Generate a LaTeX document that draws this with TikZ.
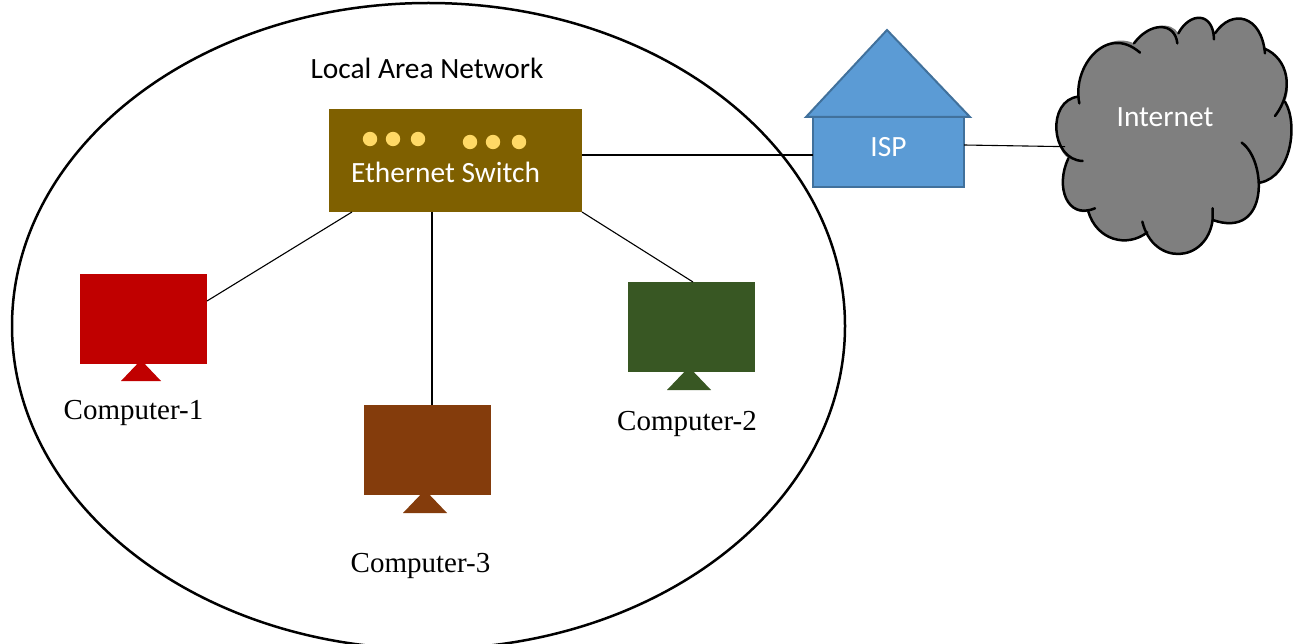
\documentclass[tikz,border=0pt]{standalone}
\usepackage{fontspec}
\setmainfont{Carlito}
\newfontfamily\serifcap{Liberation Serif}
\begin{document}
\begin{tikzpicture}[x=1pt,y=-1pt,
  box/.style={draw=none,inner sep=0pt,outer sep=0pt,anchor=north west},
  monitor/.style={box,minimum width=127pt,minimum height=90pt},
  link/.style={draw=black,line width=1.1pt},
  led/.style={fill=ledyellow},
  caption/.style={font=\serifcap\fontsize{29}{34}\selectfont,text=black,inner sep=0pt},
  sanslabel/.style={font=\fontsize{29.4}{34}\selectfont,inner sep=0pt},
  lobe/.style={draw=black,line width=2.5pt,line cap=round}]
\definecolor{ledyellow}{HTML}{FFD966}
\definecolor{switchc}{HTML}{7F6000}
\definecolor{redc}{HTML}{C00000}
\definecolor{greenc}{HTML}{385723}
\definecolor{brownc}{HTML}{843C0C}
\definecolor{ispfill}{HTML}{5B9BD5}
\definecolor{ispline}{HTML}{41719C}
\definecolor{cloudc}{HTML}{7F7F7F}
\useasboundingbox (0,0) rectangle (1298,644);
\begin{scope}
\clip (0,0) rectangle (1298,644);
\draw[line width=2.5pt,fill=white] (428.5,326) ellipse [x radius=416.5,y radius=323];
\end{scope}
\node[box,fill=switchc,minimum width=253pt,minimum height=103pt] (sw) at (329,109) {};
\node[monitor,fill=redc] (c1) at (80,274) {};
\node[monitor,fill=greenc] (c2) at (628,282) {};
\node[monitor,fill=brownc] (c3) at (364,405) {};
\fill[redc] (141,360) -- (161,381) -- (121,381) -- cycle;
\fill[greenc] (689,367) -- (711,390) -- (667,390) -- cycle;
\fill[brownc] (425,490) -- (447,513) -- (403,513) -- cycle;
\foreach \px/\py in {370/139,393/139,418/139,470/142,493/142,519/142}
  \fill[led] (\px,\py) circle [radius=7.2];
\node[box,draw=ispline,line width=2pt,fill=ispfill,minimum width=151pt,minimum height=70pt] (isp) at (813,117) {};
\draw[draw=ispline,line width=2pt,fill=ispfill,line join=miter] (806,117) -- (887,30) -- (970,117) -- cycle;
\node[sanslabel,text=white] (ispt) at (888.5,147) {ISP};
\node[sanslabel,text=white] (swt) at (445.5,172) {Ethernet Switch};
\node[sanslabel,text=black] (lan) at (427,68) {Local Area Network};
\node[caption] (c1t) at (133.5,413) {Computer-1};
\node[caption] (c2t) at (687,424) {Computer-2};
\node[caption] (c3t) at (420.5,566) {Computer-3};
% cloud body
\begin{scope}[shift={(1040,0)},x=0.3333pt,y=-0.3333pt]
\fill[cloudc] (118,310) .. controls (105,200) and (190,90) .. (282,130)
  .. controls (330,65) and (395,65) .. (415,100)
  .. controls (450,40) and (510,40) .. (525,100)
  .. controls (575,25) and (665,45) .. (672,145)
  .. controls (745,175) and (755,260) .. (735,305)
  .. controls (775,370) and (755,530) .. (660,548)
  .. controls (660,640) and (590,700) .. (518,660)
  .. controls (500,790) and (370,790) .. (322,697)
  .. controls (260,745) and (170,720) .. (145,635)
  .. controls (80,650) and (45,560) .. (85,475)
  .. controls (35,440) and (30,300) .. (118,290) -- cycle;
\coordinate (cloudport) at (75,440);
\draw[lobe] (118,310) .. controls (95,200) and (200,70) .. (300,158);
\draw[lobe] (282,130) .. controls (330,65) and (405,65) .. (412,130);
\draw[lobe] (415,100) .. controls (450,35) and (520,35) .. (522,118);
\draw[lobe] (525,100) .. controls (575,25) and (665,45) .. (675,160);
\draw[lobe] (672,145) .. controls (745,175) and (765,270) .. (705,348);
\draw[lobe] (735,305) .. controls (775,370) and (755,530) .. (660,548);
\draw[lobe] (605,428) .. controls (680,480) and (690,720) .. (518,660) -- (518,625);
\draw[lobe] (518,660) .. controls (500,790) and (340,800) .. (307,665);
\draw[lobe] (322,697) .. controls (260,745) and (170,720) .. (145,635);
\draw[lobe] (165,625) .. controls (80,660) and (45,560) .. (85,475);
\draw[lobe] (128,483) .. controls (30,480) and (20,300) .. (115,290);
\end{scope}
\node[sanslabel,text=white] (net) at (1165,117) {Internet};
\draw[link] ([yshift=-46pt]sw.north east) -- ([yshift=-38pt]isp.north west);
\draw[link] ([xshift=23pt]sw.south west) -- ([yshift=-27pt]c1.north east);
\draw[link] ([xshift=103pt]sw.south west) -- ([xshift=68pt]c3.north west);
\draw[link] (sw.south east) -- ([xshift=65pt]c2.north west);
\draw[link] ([yshift=-28pt]isp.north east) -- (cloudport);
\end{tikzpicture}
\end{document}
